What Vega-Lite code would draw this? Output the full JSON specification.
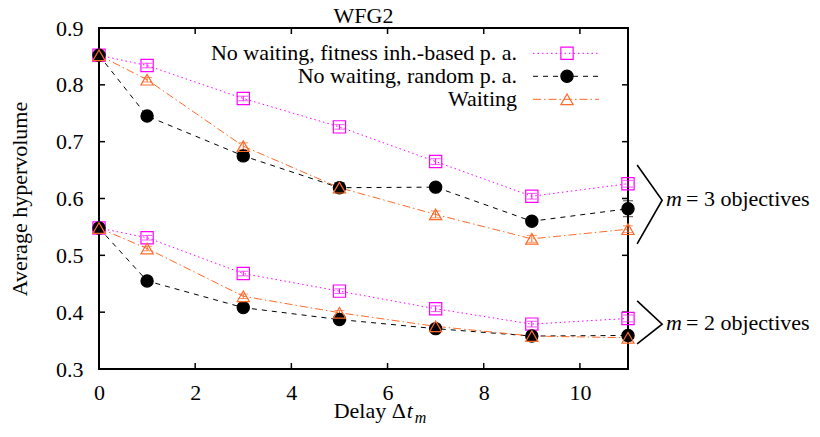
{
  "$schema": "https://vega.github.io/schema/vega-lite/v6.json",
  "width": 529,
  "height": 341,
  "autosize": "none",
  "padding": {"left": 99, "top": 28, "right": 192, "bottom": 68},
  "background": "white",
  "config": {
    "font": "Liberation Serif",
    "view": {"stroke": "black", "strokeWidth": 2},
    "axis": {
      "labelFont": "Liberation Serif", "labelFontSize": 22, "labelColor": "black",
      "titleFont": "Liberation Serif", "titleFontSize": 22, "titleFontWeight": "normal", "titleColor": "black",
      "domain": false, "grid": false, "ticks": false
    },
    "legend": {"labelFont": "Liberation Serif", "labelColor": "black"},
    "text": {"font": "Liberation Serif"}
  },
  "title": {"text": "WFG2", "font": "Liberation Serif", "fontSize": 22, "fontWeight": "normal", "color": "black", "baseline": "alphabetic", "offset": 0, "dy": 28, "anchor": "middle"},
  "resolve": {"axis": {"x": "independent", "y": "independent"}},
  "datasets": {
    "xt": [{"v": 2}, {"v": 4}, {"v": 6}, {"v": 8}, {"v": 10}],
    "yt": [{"v": 0.4}, {"v": 0.5}, {"v": 0.6}, {"v": 0.7}, {"v": 0.8}]
  },
  "data": {"values": [
    {"series": "No waiting, fitness inh.-based p. a.", "m": 3, "x": 0, "hv": 0.852, "lo": 0.849, "hi": 0.855},
    {"series": "No waiting, fitness inh.-based p. a.", "m": 3, "x": 1, "hv": 0.834, "lo": 0.830, "hi": 0.838},
    {"series": "No waiting, fitness inh.-based p. a.", "m": 3, "x": 3, "hv": 0.776, "lo": 0.772, "hi": 0.780},
    {"series": "No waiting, fitness inh.-based p. a.", "m": 3, "x": 5, "hv": 0.726, "lo": 0.722, "hi": 0.730},
    {"series": "No waiting, fitness inh.-based p. a.", "m": 3, "x": 7, "hv": 0.665, "lo": 0.660, "hi": 0.670},
    {"series": "No waiting, fitness inh.-based p. a.", "m": 3, "x": 9, "hv": 0.604, "lo": 0.599, "hi": 0.609},
    {"series": "No waiting, fitness inh.-based p. a.", "m": 3, "x": 11, "hv": 0.626, "lo": 0.620, "hi": 0.632},
    {"series": "No waiting, fitness inh.-based p. a.", "m": 2, "x": 0, "hv": 0.548, "lo": 0.545, "hi": 0.551},
    {"series": "No waiting, fitness inh.-based p. a.", "m": 2, "x": 1, "hv": 0.531, "lo": 0.527, "hi": 0.535},
    {"series": "No waiting, fitness inh.-based p. a.", "m": 2, "x": 3, "hv": 0.468, "lo": 0.464, "hi": 0.472},
    {"series": "No waiting, fitness inh.-based p. a.", "m": 2, "x": 5, "hv": 0.437, "lo": 0.433, "hi": 0.441},
    {"series": "No waiting, fitness inh.-based p. a.", "m": 2, "x": 7, "hv": 0.406, "lo": 0.401, "hi": 0.411},
    {"series": "No waiting, fitness inh.-based p. a.", "m": 2, "x": 9, "hv": 0.379, "lo": 0.374, "hi": 0.384},
    {"series": "No waiting, fitness inh.-based p. a.", "m": 2, "x": 11, "hv": 0.389, "lo": 0.383, "hi": 0.395},
    {"series": "No waiting, random p. a.", "m": 3, "x": 0, "hv": 0.852, "lo": 0.849, "hi": 0.855},
    {"series": "No waiting, random p. a.", "m": 3, "x": 1, "hv": 0.745, "lo": 0.741, "hi": 0.749},
    {"series": "No waiting, random p. a.", "m": 3, "x": 3, "hv": 0.675, "lo": 0.667, "hi": 0.683},
    {"series": "No waiting, random p. a.", "m": 3, "x": 5, "hv": 0.619, "lo": 0.610, "hi": 0.628},
    {"series": "No waiting, random p. a.", "m": 3, "x": 7, "hv": 0.620, "lo": 0.614, "hi": 0.626},
    {"series": "No waiting, random p. a.", "m": 3, "x": 9, "hv": 0.560, "lo": 0.553, "hi": 0.567},
    {"series": "No waiting, random p. a.", "m": 3, "x": 11, "hv": 0.582, "lo": 0.568, "hi": 0.596},
    {"series": "No waiting, random p. a.", "m": 2, "x": 0, "hv": 0.548, "lo": 0.545, "hi": 0.551},
    {"series": "No waiting, random p. a.", "m": 2, "x": 1, "hv": 0.455, "lo": 0.452, "hi": 0.458},
    {"series": "No waiting, random p. a.", "m": 2, "x": 3, "hv": 0.408, "lo": 0.404, "hi": 0.412},
    {"series": "No waiting, random p. a.", "m": 2, "x": 5, "hv": 0.387, "lo": 0.383, "hi": 0.391},
    {"series": "No waiting, random p. a.", "m": 2, "x": 7, "hv": 0.371, "lo": 0.367, "hi": 0.375},
    {"series": "No waiting, random p. a.", "m": 2, "x": 9, "hv": 0.358, "lo": 0.354, "hi": 0.362},
    {"series": "No waiting, random p. a.", "m": 2, "x": 11, "hv": 0.359, "lo": 0.353, "hi": 0.365},
    {"series": "Waiting", "m": 3, "x": 0, "hv": 0.852, "lo": 0.849, "hi": 0.855},
    {"series": "Waiting", "m": 3, "x": 1, "hv": 0.809, "lo": 0.805, "hi": 0.813},
    {"series": "Waiting", "m": 3, "x": 3, "hv": 0.692, "lo": 0.686, "hi": 0.698},
    {"series": "Waiting", "m": 3, "x": 5, "hv": 0.619, "lo": 0.613, "hi": 0.625},
    {"series": "Waiting", "m": 3, "x": 7, "hv": 0.572, "lo": 0.566, "hi": 0.578},
    {"series": "Waiting", "m": 3, "x": 9, "hv": 0.529, "lo": 0.523, "hi": 0.535},
    {"series": "Waiting", "m": 3, "x": 11, "hv": 0.546, "lo": 0.540, "hi": 0.552},
    {"series": "Waiting", "m": 2, "x": 0, "hv": 0.548, "lo": 0.545, "hi": 0.551},
    {"series": "Waiting", "m": 2, "x": 1, "hv": 0.512, "lo": 0.508, "hi": 0.516},
    {"series": "Waiting", "m": 2, "x": 3, "hv": 0.428, "lo": 0.424, "hi": 0.432},
    {"series": "Waiting", "m": 2, "x": 5, "hv": 0.399, "lo": 0.395, "hi": 0.403},
    {"series": "Waiting", "m": 2, "x": 7, "hv": 0.375, "lo": 0.371, "hi": 0.379},
    {"series": "Waiting", "m": 2, "x": 9, "hv": 0.358, "lo": 0.354, "hi": 0.362},
    {"series": "Waiting", "m": 2, "x": 11, "hv": 0.355, "lo": 0.349, "hi": 0.361}
  ]},
  "layer": [
    {
      "data": {"name": "xt"},
      "mark": {"type": "tick", "orient": "vertical", "size": 6, "thickness": 1.5, "color": "black", "yOffset": -3, "opacity": 1},
      "encoding": {
        "x": {"field": "v", "type": "quantitative", "axis": null, "scale": {"domain": [0, 11], "nice": false, "zero": false}},
        "y": {"datum": 0.3, "type": "quantitative", "axis": null, "scale": {"domain": [0.3, 0.9], "nice": false, "zero": false}}
      }
    },
    {
      "data": {"name": "xt"},
      "mark": {"type": "tick", "orient": "vertical", "size": 6, "thickness": 1.5, "color": "black", "yOffset": 3, "opacity": 1},
      "encoding": {
        "x": {"field": "v", "type": "quantitative", "axis": null},
        "y": {"datum": 0.9, "type": "quantitative", "axis": null}
      }
    },
    {
      "data": {"name": "yt"},
      "mark": {"type": "tick", "orient": "horizontal", "size": 6, "thickness": 1.5, "color": "black", "xOffset": 3, "opacity": 1},
      "encoding": {
        "y": {"field": "v", "type": "quantitative", "axis": null},
        "x": {"datum": 0, "type": "quantitative", "axis": null}
      }
    },
    {
      "data": {"name": "yt"},
      "mark": {"type": "tick", "orient": "horizontal", "size": 6, "thickness": 1.5, "color": "black", "xOffset": -3, "opacity": 1},
      "encoding": {
        "y": {"field": "v", "type": "quantitative", "axis": null},
        "x": {"datum": 11, "type": "quantitative", "axis": null}
      }
    },
    {
      "mark": {"type": "errorbar", "ticks": {"size": 10}, "thickness": 1},
      "encoding": {
        "x": {"field": "x", "type": "quantitative", "axis": null},
        "y": {"field": "lo", "type": "quantitative", "axis": null},
        "y2": {"field": "hi"},
        "color": {"field": "series", "type": "nominal", "legend": null, "scale": {"range": ["#ff00ff", "#000000", "#ff6a2a"]}}
      }
    },
    {
      "mark": {"type": "line", "strokeWidth": 1},
      "encoding": {
        "x": {"field": "x", "type": "quantitative",
              "axis": {"orient": "bottom", "values": [0, 2, 4, 6, 8, 10], "labelPadding": 13, "title": null, "labelFlush": false}},
        "y": {"field": "hv", "type": "quantitative",
              "axis": {"orient": "left", "values": [0.3, 0.4, 0.5, 0.6, 0.7, 0.8, 0.9], "format": ".1f", "labelPadding": 16, "labelFlush": false,
                       "title": "Average hypervolume", "titleX": -73, "titleY": 170.5, "titleAngle": -90, "titleBaseline": "alphabetic", "titleAlign": "center"}},
        "detail": {"field": "m", "type": "nominal"},
        "color": {"field": "series", "type": "nominal", "scale": {"range": ["#ff00ff", "#000000", "#ff6a2a"]}, "legend": null},
        "strokeDash": {"field": "series", "type": "nominal", "scale": {"range": [[1.5, 3], [5, 5], [8, 3, 1.5, 3]]},
                  "legend": {"title": null, "orient": "none", "direction": "vertical", "legendX": 456, "legendY": 14.3, "symbolType": "M-6,0H6", "symbolSize": 121, "symbolStrokeWidth": 1, "rowPadding": 1, "labelAlign": "right", "labelOffset": -60, "labelFontSize": 22, "labelLimit": 0, "padding": 0,
                             "encode": {"symbols": {"update": {"stroke": {"scale": "color", "field": "value"}}}}}}
      }
    },
    {
      "mark": {"type": "point", "filled": true, "size": 150, "strokeWidth": 1.2, "opacity": 1},
      "encoding": {
        "x": {"field": "x", "type": "quantitative", "axis": null},
        "y": {"field": "hv", "type": "quantitative", "axis": null},
        "stroke": {"field": "series", "type": "nominal",
                   "scale": {"domain": ["No waiting, fitness inh.-based p. a.", "No waiting, random p. a.", "Waiting"], "range": ["#ff00ff", "#000000", "#ff6a2a"]},
                   "legend": {"title": null, "orient": "none", "direction": "vertical", "legendX": 457, "legendY": 13.8, "symbolSize": 150, "symbolStrokeWidth": 1.2, "clipHeight": 23, "rowPadding": 0, "labelOpacity": 0, "labelFontSize": 22, "padding": 0}},
        "fill": {"field": "series", "type": "nominal",
                 "scale": {"domain": ["No waiting, fitness inh.-based p. a.", "No waiting, random p. a.", "Waiting"], "range": ["transparent", "#000000", "transparent"]},
                 "legend": {"title": null, "orient": "none", "direction": "vertical", "legendX": 457, "legendY": 13.8, "symbolSize": 150, "symbolStrokeWidth": 1.2, "clipHeight": 23, "rowPadding": 0, "labelOpacity": 0, "labelFontSize": 22, "padding": 0}},
        "shape": {"field": "series", "type": "nominal",
                  "scale": {"domain": ["No waiting, fitness inh.-based p. a.", "No waiting, random p. a.", "Waiting"], "range": ["square", "circle", "triangle-up"]},
                  "legend": {"title": null, "orient": "none", "direction": "vertical", "legendX": 457, "legendY": 13.8, "symbolSize": 150, "symbolStrokeWidth": 1.2, "clipHeight": 23, "rowPadding": 0, "labelOpacity": 0, "labelFontSize": 22, "padding": 0}}
      }
    },
    {
      "data": {"values": [
        {"grp": "3", "o": 0, "bx": 11.19, "by": 0.659},
        {"grp": "3", "o": 1, "bx": 11.71, "by": 0.597},
        {"grp": "3", "o": 2, "bx": 11.19, "by": 0.520},
        {"grp": "2", "o": 0, "bx": 11.19, "by": 0.420},
        {"grp": "2", "o": 1, "bx": 11.71, "by": 0.379},
        {"grp": "2", "o": 2, "bx": 11.19, "by": 0.344}
      ]},
      "mark": {"type": "line", "color": "black", "strokeWidth": 1.6, "clip": false},
      "encoding": {
        "x": {"field": "bx", "type": "quantitative", "axis": null},
        "y": {"field": "by", "type": "quantitative", "axis": null},
        "detail": {"field": "grp", "type": "nominal"},
        "order": {"field": "o", "type": "quantitative"}
      }
    },
    {
      "data": {"values": [
        {"label": "= 3 objectives", "ty": 0.586},
        {"label": "= 2 objectives", "ty": 0.369}
      ]},
      "mark": {"type": "text", "text": "m", "fontStyle": "italic", "fontSize": 22, "align": "left", "baseline": "alphabetic", "color": "black"},
      "encoding": {
        "x": {"datum": 11.79, "type": "quantitative", "axis": null},
        "y": {"field": "ty", "type": "quantitative", "axis": null}
      }
    },
    {
      "data": {"values": [
        {"label": "= 3 objectives", "ty": 0.586},
        {"label": "= 2 objectives", "ty": 0.369}
      ]},
      "mark": {"type": "text", "fontSize": 22, "align": "left", "baseline": "alphabetic", "color": "black", "dx": 20},
      "encoding": {
        "x": {"datum": 11.79, "type": "quantitative", "axis": null},
        "y": {"field": "ty", "type": "quantitative", "axis": null},
        "text": {"field": "label"}
      }
    },
    {
      "data": {"values": [{"t": "Delay Δ"}]},
      "mark": {"type": "text", "fontSize": 22, "align": "right", "baseline": "alphabetic", "color": "black"},
      "encoding": {
        "x": {"datum": 6.38, "type": "quantitative", "axis": null},
        "y": {"datum": 0.213, "type": "quantitative", "axis": null},
        "text": {"field": "t"}
      }
    },
    {
      "data": {"values": [{"t": "t"}]},
      "mark": {"type": "text", "fontSize": 22, "fontStyle": "italic", "align": "left", "baseline": "alphabetic", "color": "black", "dx": 1},
      "encoding": {
        "x": {"datum": 6.38, "type": "quantitative", "axis": null},
        "y": {"datum": 0.213, "type": "quantitative", "axis": null},
        "text": {"field": "t"}
      }
    },
    {
      "data": {"values": [{"t": "m"}]},
      "mark": {"type": "text", "fontSize": 16, "fontStyle": "italic", "align": "left", "baseline": "alphabetic", "color": "black", "dx": 9, "dy": 5},
      "encoding": {
        "x": {"datum": 6.38, "type": "quantitative", "axis": null},
        "y": {"datum": 0.213, "type": "quantitative", "axis": null},
        "text": {"field": "t"}
      }
    }
  ]
}
